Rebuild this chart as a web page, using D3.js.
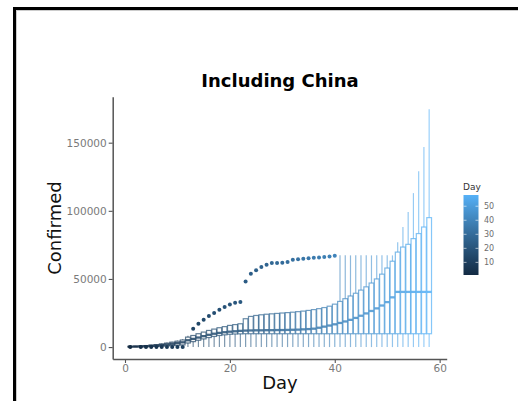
<!DOCTYPE html>
<html>
<head>
<meta charset="utf-8">
<script src="https://cdn.jsdelivr.net/npm/d3@7"></script>
<style>
  html, body { margin: 0; padding: 0; background: #fff; }
  svg { display: block; font-family: "DejaVu Sans", sans-serif; }
</style>
</head>
<body>
<svg id="chart" width="518" height="401"></svg>
<script>
// Daily distribution of confirmed cases (box statistics per day)
const days = [1,2,3,4,5,6,7,8,9,10,11,12,13,14,15,16,17,18,19,20,
  21,22,23,24,25,26,27,28,29,30,31,32,33,34,35,36,37,38,39,40,
  41,42,43,44,45,46,47,48,49,50,51,52,53,54,55,56,57,58];

const whiskerLow = [100,150,200,300,400,500,700,900,1100,1300,1600,0,0,0,0,0,0,0,0,0,
  0,0,0,0,0,0,0,0,0,0,0,0,0,0,0,0,0,0,0,0,
  0,0,0,0,0,0,0,0,0,0,0,0,0,0,0,0,0,0];

const q1 = [100,150,200,300,400,500,700,900,1100,1300,1600,3000,4000,5000,6000,7000,7800,8500,9000,9400,
  9600,9700,9800,9800,9800,9800,9800,9800,9800,9800,9800,9800,9800,9800,9800,9800,9800,9800,9800,9800,
  9800,9800,9800,9800,9800,9800,9800,9800,9800,9800,9800,9800,9800,9800,9800,9800,9800,9800];

const median = [300,400,500,700,900,1100,1500,1900,2400,2900,3500,5000,6000,7000,8000,9000,9800,10400,10900,11300,
  11600,11900,12100,12200,12300,12300,12400,12400,12500,12500,12600,12700,12800,13000,13200,13500,14200,15000,15800,16700,
  17700,18800,20000,21400,23000,24700,26500,28400,30500,33000,36500,40500,40500,40500,40500,40500,40500,40500];

const q3 = [500,650,800,1100,1400,1800,2300,2900,3600,4300,5200,7300,8500,9800,11000,12200,13200,14200,15000,15900,
  16500,17100,20800,22500,23200,23700,24100,24400,24700,25000,25300,25600,26000,26400,26900,27500,28200,29000,30000,31500,
  33500,35500,37500,39500,41800,44200,47000,50000,53500,58000,63000,69700,73400,75400,79600,83300,88100,95000];

const whiskerHigh = [700,850,1000,1400,1700,2100,2700,3300,4000,4800,5800,8300,8500,9800,11000,12200,13200,14200,15000,15900,
  16500,17100,20800,22500,23200,23700,24100,24400,24700,25000,25300,25600,26000,26400,26900,27500,28200,29000,30000,31500,
  67300,67300,67300,67300,67300,67300,67300,67300,67300,67300,67300,77000,88100,99100,113000,129000,146800,174500];

// Points beyond the whiskers
const outlierDays = [1,3,4,5,6,7,8,9,10,11,
  13,14,15,16,17,18,19,20,21,22,23,24,25,26,27,28,29,30,31,32,33,34,35,36,37,38,39,40];
const outlierValues = [0,0,0,0,0,0,0,0,0,0,
  13460,17100,20000,22750,24960,27400,29360,31300,32500,33000,48200,53800,56300,58700,60400,61700,61700,61900,62400,
  64100,64500,64900,65200,65500,65800,66100,66500,67000];

const xTicks = [0, 20, 40, 60];
const yTicks = [0, 50000, 100000, 150000];
const legendTicks = [10, 20, 30, 40, 50];

const svg = d3.select("#chart");

// Outer frame
svg.append("line").attr("x1", 13).attr("x2", 518).attr("y1", 8.5).attr("y2", 8.5)
  .attr("stroke", "#000").attr("stroke-width", 3);
svg.append("line").attr("x1", 14.5).attr("x2", 14.5).attr("y1", 7).attr("y2", 401)
  .attr("stroke", "#000").attr("stroke-width", 3);
svg.append("line").attr("x1", 16).attr("x2", 518).attr("y1", 10.5).attr("y2", 10.5)
  .attr("stroke", "#ccc").attr("stroke-width", 1);
svg.append("line").attr("x1", 16.5).attr("x2", 16.5).attr("y1", 10).attr("y2", 401)
  .attr("stroke", "#ccc").attr("stroke-width", 1);

const x = d3.scaleLinear().domain([-2.345, 61.345]).range([112.7, 446.7]);
const y = d3.scaleLinear().domain([-8750, 183750]).range([359, 96.7]);
const color = d3.scaleLinear().domain([1, 58]).range(["#132B43", "#56B1F7"])
  .interpolate(d3.interpolateLab);

const boxHalf = (x(0.9) - x(0)) / 2;

const rows = days.map((d, i) => ({
  day: d, lo: whiskerLow[i], q1: q1[i], med: median[i], q3: q3[i], hi: whiskerHigh[i]
}));

const g = svg.append("g");
const box = g.selectAll("g.box").data(rows).join("g").attr("class", "box")
  .attr("stroke", d => color(d.day)).attr("stroke-opacity", 0.72);

// whiskers
box.append("line").attr("x1", d => x(d.day)).attr("x2", d => x(d.day))
  .attr("y1", d => y(d.lo)).attr("y2", d => y(d.q1)).attr("stroke-width", 1.2)
  .attr("stroke-opacity", 0.6);
box.append("line").attr("x1", d => x(d.day)).attr("x2", d => x(d.day))
  .attr("y1", d => y(d.q3)).attr("y2", d => y(d.hi)).attr("stroke-width", 1.2)
  .attr("stroke-opacity", 0.6);
// box body
box.append("rect")
  .attr("x", d => x(d.day) - boxHalf).attr("width", boxHalf * 2)
  .attr("y", d => y(d.q3)).attr("height", d => Math.max(0, y(d.q1) - y(d.q3)))
  .attr("fill", "#fff").attr("stroke-width", 1.2);
// median
box.append("line")
  .attr("x1", d => x(d.day) - boxHalf).attr("x2", d => x(d.day) + boxHalf)
  .attr("y1", d => y(d.med)).attr("y2", d => y(d.med)).attr("stroke-width", 2.3)
  .attr("stroke-opacity", 0.85);

// outliers
g.selectAll("circle.out").data(outlierDays.map((d, i) => ({ day: d, v: outlierValues[i] })))
  .join("circle").attr("class", "out")
  .attr("cx", d => x(d.day)).attr("cy", d => y(d.v)).attr("r", 2)
  .attr("fill", d => color(d.day));

// Axes
const axisColor = "#555";
const xAxis = svg.append("g").attr("transform", "translate(0,359)")
  .call(d3.axisBottom(x).tickValues(xTicks).tickSize(4).tickPadding(2).tickSizeOuter(0));
const yAxis = svg.append("g").attr("transform", "translate(112.7,0)")
  .call(d3.axisLeft(y).tickValues(yTicks).tickSize(4).tickPadding(2).tickSizeOuter(0)
    .tickFormat(d3.format("d")));
[xAxis, yAxis].forEach(a => {
  a.select(".domain").attr("stroke", axisColor).attr("stroke-width", 1.5);
  a.selectAll(".tick line").attr("stroke", axisColor).attr("stroke-width", 1.1);
  a.selectAll(".tick text").attr("fill", "#7a7a7a").attr("font-size", 10.5)
    .attr("font-family", "DejaVu Sans");
});

// Titles
svg.append("text").attr("x", 280).attr("y", 87).attr("text-anchor", "middle")
  .attr("font-size", 18).attr("font-weight", "bold").attr("fill", "#000")
  .text("Including China");
svg.append("text").attr("x", 280).attr("y", 389).attr("text-anchor", "middle")
  .attr("font-size", 18).attr("fill", "#111").text("Day");
svg.append("text").attr("transform", "translate(60.5,228) rotate(-90)")
  .attr("text-anchor", "middle").attr("font-size", 18).attr("fill", "#111")
  .text("Confirmed");

// Colour legend
const legX = 463.5, legW = 15, legTop = 195, legBot = 275;
const defs = svg.append("defs");
const grad = defs.append("linearGradient").attr("id", "dayGrad")
  .attr("x1", 0).attr("y1", 1).attr("x2", 0).attr("y2", 0);
d3.range(0, 1.0001, 0.1).forEach(t => {
  grad.append("stop").attr("offset", t).attr("stop-color", color(1 + t * 57));
});
const ly = d3.scaleLinear().domain([1, 58]).range([legBot, legTop]);
svg.append("rect").attr("x", legX).attr("y", legTop).attr("width", legW)
  .attr("height", legBot - legTop).attr("fill", "url(#dayGrad)");
legendTicks.forEach(t => {
  svg.append("line").attr("x1", legX).attr("x2", legX + 3).attr("y1", ly(t)).attr("y2", ly(t))
    .attr("stroke", "#fff").attr("stroke-width", 0.6);
  svg.append("line").attr("x1", legX + legW - 3).attr("x2", legX + legW).attr("y1", ly(t)).attr("y2", ly(t))
    .attr("stroke", "#fff").attr("stroke-width", 0.6);
  svg.append("text").attr("x", 484).attr("y", ly(t)).attr("dy", "0.35em")
    .attr("font-size", 8).attr("fill", "#6e6e6e").text(t);
});
svg.append("text").attr("x", 463).attr("y", 190).attr("font-size", 9)
  .attr("fill", "#333").text("Day");
</script>
</body>
</html>
